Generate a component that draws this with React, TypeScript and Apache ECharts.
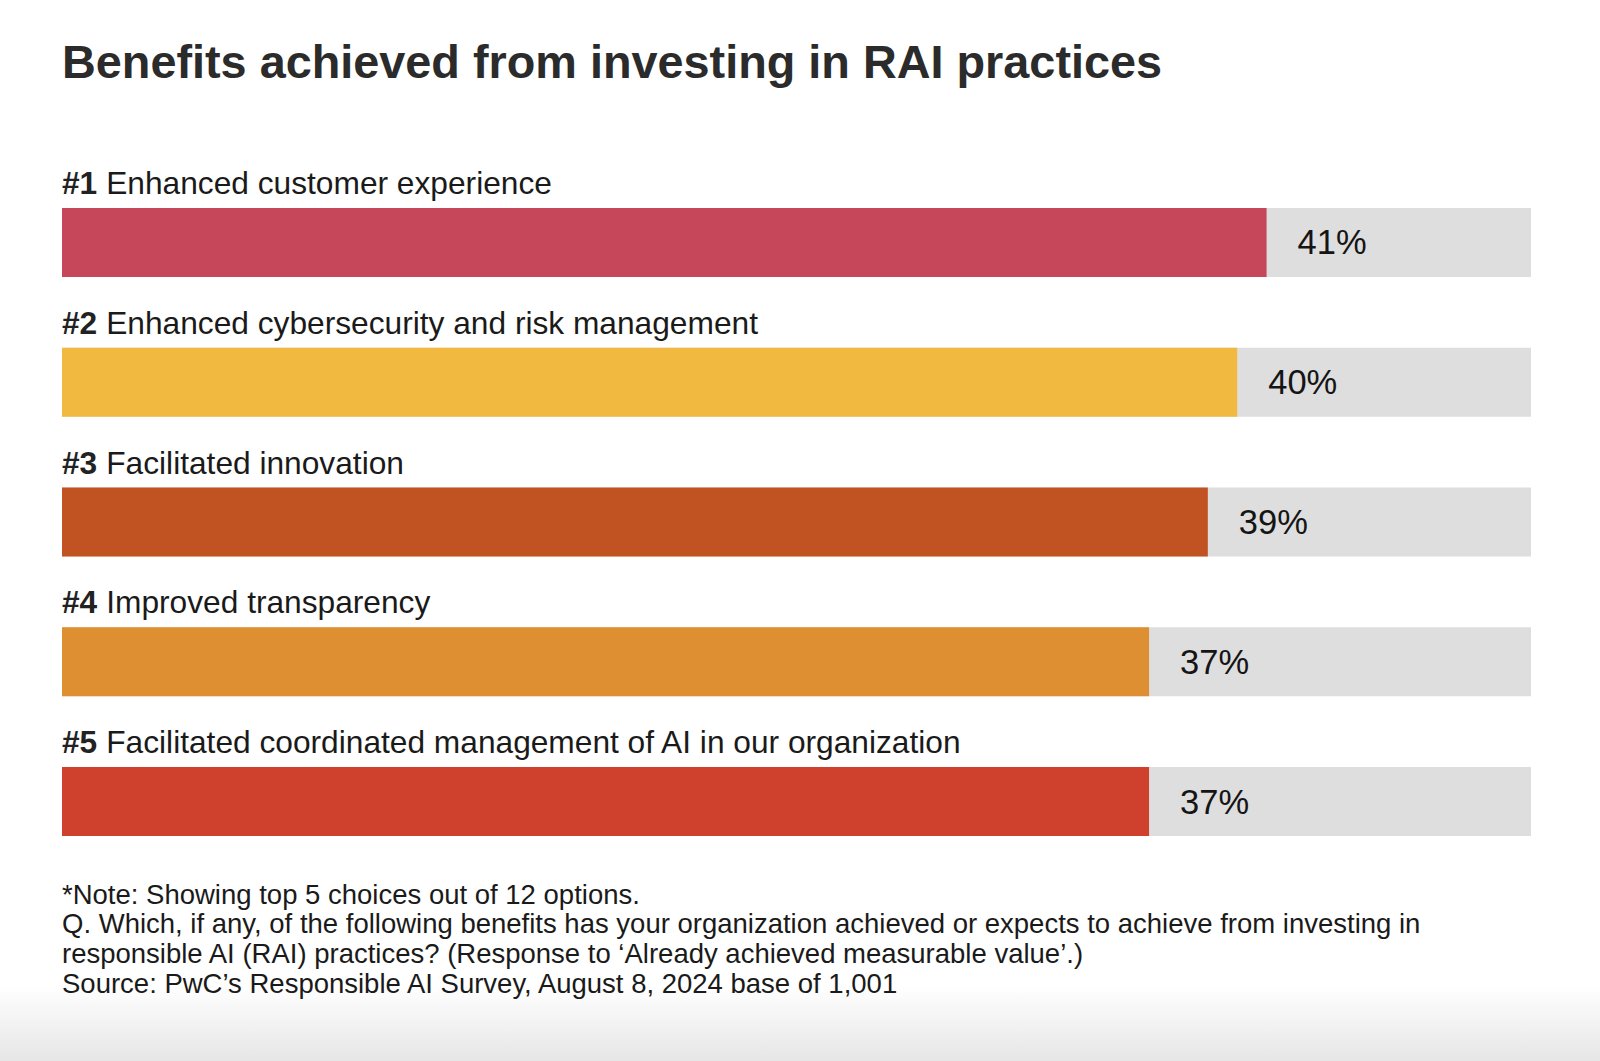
import React, { useEffect, useRef } from "react";
import * as echarts from "echarts";

const titleText = "Benefits achieved from investing in RAI practices";
const ranks = ["#1", "#2", "#3", "#4", "#5"];
const categories = [
  "Enhanced customer experience",
  "Enhanced cybersecurity and risk management",
  "Facilitated innovation",
  "Improved transparency",
  "Facilitated coordinated management of AI in our organization",
];
const values = [41, 40, 39, 37, 37];
const barColors = ["#C7475A", "#F2B940", "#C05321", "#DD8F31", "#CF412D"];
const scaleMax = 50;
const notes = [
  "*Note: Showing top 5 choices out of 12 options.",
  "Q. Which, if any, of the following benefits has your organization achieved or expects to achieve from investing in",
  "responsible AI (RAI) practices? (Response to \u2018Already achieved measurable value\u2019.)",
  "Source: PwC\u2019s Responsible AI Survey, August 8, 2024 base of 1,001",
];

const FONT = "'Liberation Sans', Arial, Helvetica, sans-serif";

export default function App() {
  const ref = useRef<HTMLDivElement>(null);
  useEffect(() => {
    if (!ref.current) return;
    const chart = echarts.init(ref.current, undefined, { renderer: "svg" });
    const noteY = [894, 923, 953, 983];
    chart.setOption({
      animation: false,
      backgroundColor: "#ffffff",
      grid: { left: 62, right: 69, top: 172.5, height: 699 },
      xAxis: { type: "value", min: 0, max: scaleMax, show: false },
      yAxis: {
        type: "category",
        data: categories,
        inverse: true,
        show: false,
      },
      series: [
        {
          type: "bar",
          data: values.map((v, i) => ({ value: v, itemStyle: { color: barColors[i] } })),
          barWidth: 69,
          showBackground: true,
          backgroundStyle: { color: "#DEDEDE" },
          label: {
            show: true,
            position: "right",
            distance: 31,
            formatter: "{c}%",
            fontSize: 34.5,
            fontFamily: FONT,
            color: "#151515",
          },
          z: 2,
        },
        {
          type: "bar",
          data: categories.map(() => scaleMax),
          barWidth: 69,
          barGap: "-100%",
          itemStyle: { color: "rgba(0,0,0,0)" },
          silent: true,
          label: {
            show: true,
            position: [0, -25],
            align: "left",
            verticalAlign: "middle",
            formatter: (p: any) => `{b|${ranks[p.dataIndex]}}{n|${categories[p.dataIndex]}}`,
            rich: {
              b: { fontSize: 31.7, fontWeight: "bold", fontFamily: FONT, color: "#222222", padding: [0, 9, 0, 0] },
              n: { fontSize: 31.7, fontFamily: FONT, color: "#1a1a1a" },
            },
          },
          z: 3,
        },
      ],
      graphic: [
        {
          type: "rect",
          shape: { x: 0, y: 985, width: 1600, height: 76 },
          style: {
            fill: new echarts.graphic.LinearGradient(0, 0, 0, 1, [
              { offset: 0, color: "#ffffff" },
              { offset: 1, color: "#e6e6e6" },
            ]),
          },
          z: -10,
          silent: true,
        },
        {
          type: "text",
          x: 62,
          y: 62,
          style: {
            text: titleText,
            fontSize: 46.8,
            fontWeight: "bold",
            fontFamily: FONT,
            fill: "#2b2b2b",
            verticalAlign: "middle",
            align: "left",
          },
        },
        ...notes.map((t, i) => ({
          type: "text",
          x: 62,
          y: noteY[i],
          style: {
            text: t,
            fontSize: 27.5,
            fontFamily: FONT,
            fill: "#1a1a1a",
            verticalAlign: "middle",
            align: "left",
          },
        })),
      ],
    });
    return () => chart.dispose();
  }, []);
  return (
    <div
      ref={ref}
      style={{ position: "fixed", left: 0, top: 0, width: 1600, height: 1061 }}
    />
  );
}
